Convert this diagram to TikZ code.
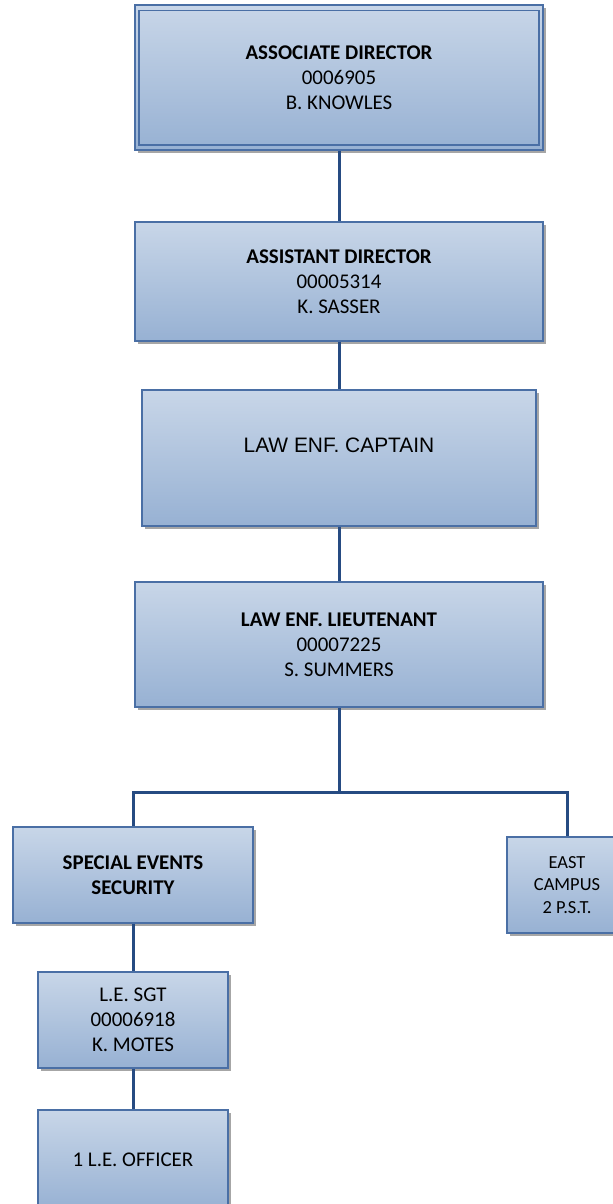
\documentclass[tikz,border=0pt]{standalone}
\usepackage{fontspec}
\setmainfont{Carlito}
\newfontfamily\arialfont{Liberation Sans}
\usetikzlibrary{shadows}
\definecolor{boxtop}{HTML}{C8D6E8}
\definecolor{boxbot}{HTML}{97B1D3}
\definecolor{boxline}{HTML}{4A6FA5}
\definecolor{linkline}{HTML}{264B82}
\begin{document}
\begin{tikzpicture}[x=1bp,y=1bp,
    orgbox/.style={draw=boxline,line width=1.5bp,top color=boxtop,bottom color=boxbot,
      drop shadow={shadow xshift=3bp,shadow yshift=-3bp,fill=black!35,opacity=1},
      inner sep=0pt,align=center,font=\fontsize{21}{25}\selectfont},
    link/.style={draw=linkline,line width=3bp}]
    % page
    \fill[white] (0,0) rectangle (613,-1204);
    \useasboundingbox (0,0) rectangle (613,-1204);
    % directors
    \node[orgbox,minimum width=408bp,minimum height=145bp] (assoc) at (339,-77.5)
        {\textbf{ASSOCIATE DIRECTOR}\\0006905\\B. KNOWLES};
    \draw[boxline,line width=1.5bp] ([shift={(5,-6)}]assoc.north west) rectangle ([shift={(-5,6)}]assoc.south east);
    \node[orgbox,minimum width=408bp,minimum height=119bp] (asst) at (339,-281.5)
        {\textbf{ASSISTANT DIRECTOR}\\00005314\\K. SASSER};
    % captain y lieutenant
    \node[orgbox,minimum width=394bp,minimum height=136bp,text depth=26bp,
        font=\arialfont\fontsize{21}{25}\selectfont] (capt) at (339,-458) {LAW ENF. CAPTAIN};
    \node[orgbox,minimum width=408bp,minimum height=125bp] (lieut) at (339,-644.5)
        {\textbf{LAW ENF. LIEUTENANT}\\00007225\\S. SUMMERS};
    % second level
    \node[orgbox,minimum width=240bp,minimum height=96bp] (special) at (133,-875)
        {\textbf{SPECIAL EVENTS}\\\textbf{SECURITY}};
    \node[orgbox,minimum width=120bp,minimum height=96bp,
        font=\fontsize{18.5}{22.5}\selectfont] (east) at (567,-885) {EAST\\CAMPUS\\2 P.S.T.};
    \node[orgbox,minimum width=190bp,minimum height=96bp] (sgt) at (133,-1020)
        {L.E. SGT\\00006918\\K. MOTES};
    \node[orgbox,minimum width=190bp,minimum height=100bp] (officer) at (133,-1160)
        {1 L.E. OFFICER};
    % lineas
    \coordinate (bus) at (339,-792);
    \draw[link] (assoc.south) -- (asst.north);
    \draw[link] (asst.south) -- (capt.north);
    \draw[link] (capt.south) -- (lieut.north);
    \draw[link] (lieut.south) -- (bus);
    \draw[link] (special.north) |- (bus) -| (east.north);
    \draw[link] (special.south) -- (sgt.north);
    \draw[link] (sgt.south) -- (officer.north);
\end{tikzpicture}
\end{document}
